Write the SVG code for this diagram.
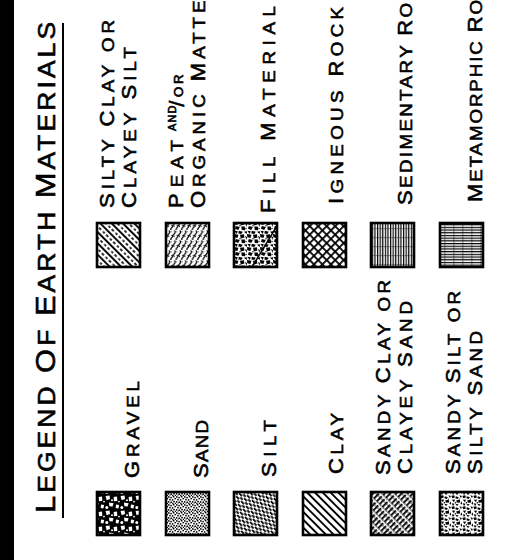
<svg xmlns="http://www.w3.org/2000/svg" width="506" height="560" viewBox="0 0 506 560">
<style>
text{font-family:"Liberation Sans",Arial,sans-serif;fill:#000;stroke:#000;stroke-width:0.6;font-size:17px}
.b{font-size:20px}
.tt{font-size:24px}
.tb{font-size:28px}
.sw{stroke:#000;stroke-width:2.6}
</style>
<defs>
<pattern id="p-clay" width="5.5" height="10" patternUnits="userSpaceOnUse" patternTransform="rotate(-45)"><rect width="1.9" height="10" fill="#000"/></pattern>
<pattern id="p-siltyclay" width="8" height="10" patternUnits="userSpaceOnUse" patternTransform="rotate(-45)"><rect width="1.9" height="10" fill="#000"/><rect x="4.2" y="1" width="1.6" height="3" fill="#000"/><rect x="4.2" y="6.5" width="1.6" height="2.5" fill="#000"/></pattern>
<pattern id="p-silt" width="4.2" height="7" patternUnits="userSpaceOnUse" patternTransform="rotate(-45)"><rect width="1.8" height="3.8" fill="#000"/><rect x="2.1" y="3.5" width="1.8" height="3.8" fill="#000"/></pattern>
<pattern id="p-sandyclay" width="4" height="9" patternUnits="userSpaceOnUse" patternTransform="rotate(45)"><rect width="1.8" height="7.5" fill="#000"/><circle cx="3" cy="2" r="0.7" fill="#000"/><circle cx="2.8" cy="7" r="0.7" fill="#000"/></pattern>
<pattern id="p-igneous" width="6" height="6" patternUnits="userSpaceOnUse" patternTransform="rotate(45)"><rect width="1.8" height="6" fill="#000"/><rect width="6" height="1.8" fill="#000"/></pattern>
<pattern id="p-sed" width="2.6" height="9" patternUnits="userSpaceOnUse"><rect width="1.2" height="9" fill="#000"/><rect x="1.6" y="3" width="0.5" height="1.2" fill="#000"/></pattern>
<pattern id="p-meta" width="9" height="2.7" patternUnits="userSpaceOnUse"><rect width="9" height="1.2" fill="#000"/><rect x="3" y="1.6" width="1.6" height="0.5" fill="#000"/></pattern>
<pattern id="p-gravel" width="15" height="15" patternUnits="userSpaceOnUse"><rect width="15" height="15" fill="#000"/><g fill="#fff"><path d="M0.6,1 L4.6,0.6 L5,4 L1.6,5.2 Z"/><path d="M8.6,2 L12,1.6 L12.3,6 L9,6.3 Z"/><path d="M4,7.6 L8.6,8.2 L7.6,11.6 L4.4,11.3 Z"/><path d="M11,9.4 L14.2,10 L13.4,13.4 L10.7,12.9 Z"/><circle cx="1.8" cy="12.6" r="1.5"/><circle cx="7" cy="5.2" r="1"/><circle cx="14" cy="6.6" r="0.9"/></g></pattern>
<pattern id="p-sand" width="8" height="8" patternUnits="userSpaceOnUse"><g fill="#000"><circle cx="0.8" cy="0.9" r="0.9"/><circle cx="3.1" cy="1.6" r="0.85"/><circle cx="5.6" cy="0.7" r="0.9"/><circle cx="7.2" cy="2.6" r="0.85"/><circle cx="1.9" cy="3.6" r="0.9"/><circle cx="4.6" cy="3.9" r="0.85"/><circle cx="0.6" cy="5.9" r="0.85"/><circle cx="3.2" cy="6.2" r="0.9"/><circle cx="6.1" cy="5.7" r="0.9"/><circle cx="7.5" cy="7.4" r="0.75"/><circle cx="4.8" cy="7.6" r="0.75"/><circle cx="2" cy="7.8" r="0.6"/></g></pattern>
<pattern id="p-sandysilt" width="11" height="11" patternUnits="userSpaceOnUse"><g fill="#000"><path d="M0.3,0.8 L3.3,0.3 L3.8,2.5 L1.3,3.3 Z"/><path d="M4.8,1.3 L7.8,2.3 L6.8,4.1 L4.4,3.2 Z"/><path d="M8.3,0.3 L10.8,1 L10,3.3 Z"/><path d="M0.8,4.8 L4,4.4 L3,7.3 Z"/><path d="M5.3,5.3 L8.8,4.8 L9.2,7.4 L5.8,7.8 Z"/><path d="M9.4,8.4 L10.9,6.3 L11,9.7 Z"/><path d="M0.6,8.3 L3.6,8.8 L2,11 Z"/><path d="M4.3,8.8 L7.7,9.4 L6,11 Z"/><circle cx="4.4" cy="7.8" r="0.7"/><circle cx="8.3" cy="4.1" r="0.6"/></g></pattern>
<pattern id="p-peat" width="5.4" height="10" patternUnits="userSpaceOnUse"><path d="M1.5,0.5 q1.8,1.6 0,3.2 q-1.8,1.6 0,3.2" fill="none" stroke="#000" stroke-width="1.2"/><path d="M4.2,5 q1.6,1.4 0,2.8 q-1.6,1.4 0,2.8" fill="none" stroke="#000" stroke-width="1.2"/><circle cx="3.7" cy="1.8" r="0.5" fill="#000"/></pattern>
<pattern id="p-fill" width="13" height="13" patternUnits="userSpaceOnUse"><g fill="#000"><path d="M0,0 L4.5,0.8 L3.4,4 L0.3,3.3 Z"/><path d="M6,0.8 L10,0.3 L10.4,3.4 L6.8,4.4 Z"/><path d="M11,2 L13,3 L12.5,6 Z"/><path d="M1.8,5 L5.8,6 L4.2,9 L1,7.8 Z"/><path d="M7.3,5.6 L10.8,5.5 L11.2,9.3 L7.8,8.9 Z"/><path d="M0.3,9.8 L3.8,10.3 L2.6,13 Z"/><path d="M4.8,9.8 L8.8,10.8 L7.2,13 L4.4,12.4 Z"/><path d="M9.8,10.8 L13,10.2 L12.8,13 Z"/><circle cx="6" cy="4.8" r="0.7"/><circle cx="12" cy="7.5" r="0.7"/></g></pattern>
<clipPath id="c-fill"><rect x="234" y="223" width="43" height="44"/></clipPath>
</defs>

<rect id="edge" x="0" y="0" width="14" height="560" fill="#000"/>

<g id="title">
<text transform="translate(55,513) rotate(-90) scale(1.1,1)" textLength="446.4" lengthAdjust="spacing"><tspan class="tb">L</tspan><tspan class="tt">EGEND </tspan><tspan class="tb">O</tspan><tspan class="tt">F </tspan><tspan class="tb">E</tspan><tspan class="tt">ARTH </tspan><tspan class="tb">M</tspan><tspan class="tt">ATERIALS</tspan></text>
<line x1="63" y1="23" x2="63" y2="518" stroke="#000" stroke-width="2"/>
</g>

<g id="silty-clay">
<rect class="sw" x="97" y="223" width="43" height="44" fill="url(#p-siltyclay)"/>
<text transform="translate(114,208) rotate(-90) scale(1.1,1)" textLength="170.9" lengthAdjust="spacing"><tspan class="b">S</tspan>ILTY <tspan class="b">C</tspan>LAY OR</text>
<text transform="translate(136,208) rotate(-90) scale(1.1,1)" textLength="146.4" lengthAdjust="spacing"><tspan class="b">C</tspan>LAYEY <tspan class="b">S</tspan>ILT</text>
</g>

<g id="peat">
<rect class="sw" x="166" y="223" width="43" height="44" fill="url(#p-peat)"/>
<text transform="translate(183,208) rotate(-90) scale(1.1,1)" textLength="61.8" lengthAdjust="spacing"><tspan class="b">P</tspan>EAT</text>
<text transform="translate(183,208) rotate(-90) scale(1.1,1)"><tspan x="70" y="-7" font-size="10px" letter-spacing="1">AND</tspan><tspan x="92" y="1" font-size="20px">/</tspan><tspan x="101" y="0" font-size="12px" letter-spacing="2.5">OR</tspan></text>
<text transform="translate(205,208) rotate(-90) scale(1.1,1)" textLength="204.5" lengthAdjust="spacing"><tspan class="b">O</tspan>RGANIC <tspan class="b">M</tspan>ATTER</text>
</g>

<g id="fill-material">
<rect class="sw" x="234" y="223" width="43" height="44" fill="url(#p-fill)"/>
<line x1="277" y1="226" x2="252" y2="267" stroke="#000" stroke-width="1.5" clip-path="url(#c-fill)"/>
<text transform="translate(275,213) rotate(-90) scale(1.1,1)" textLength="188.2" lengthAdjust="spacing"><tspan class="b">F</tspan>ILL <tspan class="b">M</tspan>ATERIAL</text>
</g>

<g id="igneous-rock">
<rect class="sw" x="303" y="223" width="43" height="44" fill="url(#p-igneous)"/>
<text transform="translate(343,204) rotate(-90) scale(1.1,1)" textLength="179.1" lengthAdjust="spacing"><tspan class="b">I</tspan>GNEOUS <tspan class="b">R</tspan>OCK</text>
</g>

<g id="sedimentary-rock">
<rect class="sw" x="371" y="223" width="43" height="44" fill="url(#p-sed)"/>
<text transform="translate(412,205) rotate(-90) scale(1.1,1)" textLength="211.8" lengthAdjust="spacing"><tspan class="b">S</tspan>EDIMENTARY <tspan class="b">R</tspan>OCK</text>
</g>

<g id="metamorphic-rock">
<rect class="sw" x="440" y="223" width="43" height="44" fill="url(#p-meta)"/>
<text transform="translate(482,202) rotate(-90) scale(1.1,1)" textLength="210.9" lengthAdjust="spacing"><tspan class="b">M</tspan>ETAMORPHIC <tspan class="b">R</tspan>OCK</text>
</g>

<g id="gravel">
<rect class="sw" x="97" y="492" width="43" height="43" fill="url(#p-gravel)"/>
<text transform="translate(139,478) rotate(-90) scale(1.1,1)" textLength="88.2" lengthAdjust="spacing"><tspan class="b">G</tspan>RAVEL</text>
</g>

<g id="sand">
<rect class="sw" x="166" y="492" width="43" height="43" fill="url(#p-sand)"/>
<text transform="translate(208,478) rotate(-90) scale(1.1,1)" textLength="52.7" lengthAdjust="spacing"><tspan class="b">S</tspan>AND</text>
</g>

<g id="silt">
<rect class="sw" x="234" y="492" width="43" height="43" fill="url(#p-silt)"/>
<text transform="translate(276,477) rotate(-90) scale(1.1,1)" textLength="51.8" lengthAdjust="spacing"><tspan class="b">S</tspan>ILT</text>
</g>

<g id="clay">
<rect class="sw" x="303" y="492" width="43" height="43" fill="url(#p-clay)"/>
<text transform="translate(343,474) rotate(-90) scale(1.1,1)" textLength="55.5" lengthAdjust="spacing"><tspan class="b">C</tspan>LAY</text>
</g>

<g id="sandy-clay">
<rect class="sw" x="371" y="492" width="43" height="43" fill="url(#p-sandyclay)"/>
<text transform="translate(390,475) rotate(-90) scale(1.1,1)" textLength="177.3" lengthAdjust="spacing"><tspan class="b">S</tspan>ANDY <tspan class="b">C</tspan>LAY OR</text>
<text transform="translate(412,474) rotate(-90) scale(1.1,1)" textLength="157.3" lengthAdjust="spacing"><tspan class="b">C</tspan>LAYEY <tspan class="b">S</tspan>AND</text>
</g>

<g id="sandy-silt">
<rect class="sw" x="440" y="492" width="43" height="43" fill="url(#p-sandysilt)"/>
<text transform="translate(460,474) rotate(-90) scale(1.1,1)" textLength="166.4" lengthAdjust="spacing"><tspan class="b">S</tspan>ANDY <tspan class="b">S</tspan>ILT OR</text>
<text transform="translate(482,474) rotate(-90) scale(1.1,1)" textLength="130" lengthAdjust="spacing"><tspan class="b">S</tspan>ILTY <tspan class="b">S</tspan>AND</text>
</g>
</svg>
